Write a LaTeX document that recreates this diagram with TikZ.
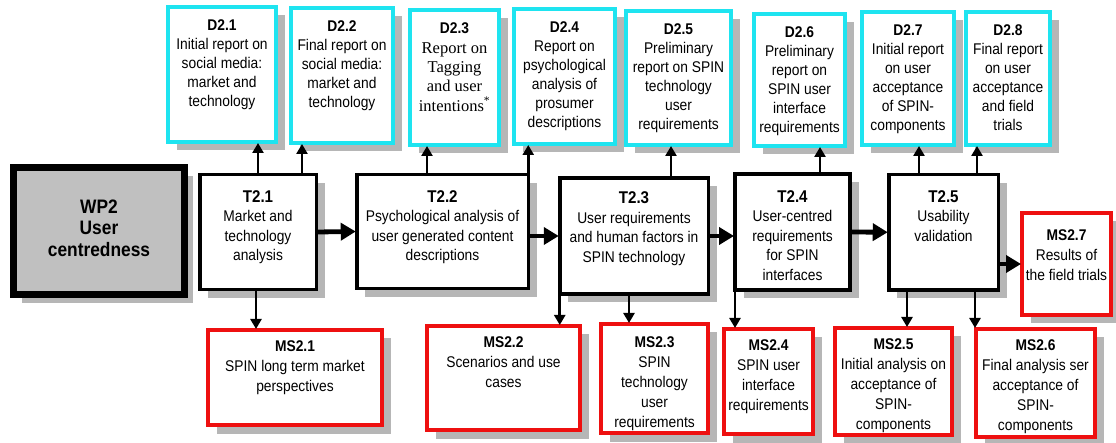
\documentclass[tikz,border=0pt]{standalone}
\usepackage{fontspec}
\setmainfont{Liberation Sans}[FakeStretch=0.89]
\newfontfamily\timesfont{Liberation Serif}
\usetikzlibrary{arrows.meta}

\definecolor{cyanline}{RGB}{30,228,240}
\definecolor{redline}{RGB}{238,16,16}
\definecolor{shadowgray}{RGB}{182,182,182}
\definecolor{wpfill}{RGB}{192,192,192}

% bold headings inside the boxes
\newcommand\boxtitle[1]{{\normalfont\bfseries\fontsize{15.5}{19}\selectfont #1}}
\newcommand\tasktitle[1]{{\normalfont\bfseries\fontsize{17}{19.5}\selectfont #1}}

% a box with its offset shadow: style, name, x, y, width, height
\newcommand\panel[6]{%
  \node[shadowpanel, minimum width=#5, minimum height=#6, xshift=8.5pt, yshift=-8.5pt] (#2-shadow) at (#3,#4) {};
  \node[#1, minimum width=#5, minimum height=#6] (#2) at (#3,#4) {};}

\begin{document}
\begin{tikzpicture}[x=1pt,y=-1pt,
  every node/.style={inner sep=0pt, outer sep=0pt},
  shadowpanel/.style={rectangle, fill=shadowgray, draw=none},
  boxbase/.style={rectangle, fill=white},
  dbox/.style={boxbase, draw=cyanline, line width=4pt},
  msbox/.style={boxbase, draw=redline, line width=4pt},
  tbox/.style={boxbase, draw=black, line width=3.5pt},
  wpbox/.style={boxbase, draw=black, fill=wpfill, line width=7pt},
  dtext/.style={anchor=north, align=center, font=\fontsize{15.5}{19}\selectfont},
  serifdtext/.style={anchor=north, align=center, font=\timesfont\fontsize{16.5}{19.3}\selectfont},
  ttext/.style={anchor=north, align=center, font=\fontsize{15.5}{19.5}\selectfont},
  mstext/.style={anchor=north, align=center, font=\fontsize{15.5}{20}\selectfont},
  wptext/.style={align=center, font=\bfseries\fontsize{19.5}{21.5}\selectfont},
  uparrow/.style={-{Triangle[length=10pt,width=11pt]}, line width=2.6pt, shorten >=1pt},
  downarrow/.style={-{Triangle[length=10pt,width=11pt]}, line width=2.6pt, shorten >=1pt},
  flowarrow/.style={-{Triangle[length=15pt,width=17pt]}, line width=4.8pt, shorten >=1pt},
]
\useasboundingbox (0,0) rectangle (1116,443);

% ---------- work package ----------
\panel{wpbox}{wp2}{99}{231}{171pt}{127pt}
\node[wptext] (wp2t) at ([yshift=3pt]wp2.center) {WP2\\User\\centredness};

% ---------- tasks ----------
\panel{tbox}{t21}{258}{232}{116.5pt}{115pt}
\panel{tbox}{t22}{442.5}{231.5}{171.5pt}{114pt}
\panel{tbox}{t23}{634}{236}{148.5pt}{116pt}
\panel{tbox}{t24}{792.5}{232}{115pt}{116pt}
\panel{tbox}{t25}{943.5}{232.25}{109.5pt}{115.5pt}

\node[ttext] (t21t) at ([yshift=-16pt]t21.north) {\tasktitle{T2.1}\\Market and\\technology\\analysis};
\node[ttext] (t22t) at ([yshift=-16pt]t22.north) {\tasktitle{T2.2}\\Psychological analysis of\\user generated content\\descriptions};
\node[ttext] (t23t) at ([yshift=-14pt]t23.north) {\tasktitle{T2.3}\\User requirements\\and human factors in\\SPIN technology};
\node[ttext] (t24t) at ([yshift=-16.5pt]t24.north) {\tasktitle{T2.4}\\User-centred\\requirements\\for SPIN\\interfaces};
\node[ttext] (t25t) at ([yshift=-16pt]t25.north) {\tasktitle{T2.5}\\Usability\\validation};

% ---------- deliverables ----------
\panel{dbox}{d21}{222}{74.5}{108pt}{135pt}
\panel{dbox}{d22}{342}{75.5}{102pt}{135pt}
\panel{dbox}{d23}{454.5}{77.5}{89pt}{135pt}
\panel{dbox}{d24}{564.5}{76.5}{101pt}{135pt}
\panel{dbox}{d25}{678.5}{78}{105pt}{134pt}
\panel{dbox}{d26}{799.5}{80}{91pt}{132pt}
\panel{dbox}{d27}{908}{78.5}{92pt}{133pt}
\panel{dbox}{d28}{1008}{78.5}{84pt}{133pt}

\node[dtext] (d21t) at ([yshift=-13pt]d21.north) {\boxtitle{D2.1}\\Initial report on\\social media:\\market and\\technology};
\node[dtext] (d22t) at ([yshift=-13pt]d22.north) {\boxtitle{D2.2}\\Final report on\\social media:\\market and\\technology};
\node[serifdtext] (d23t) at ([yshift=-13pt]d23.north) {\boxtitle{D2.3}\\Report on\\Tagging\\and user\\intentions\textsuperscript{*}};
\node[dtext] (d24t) at ([yshift=-13pt]d24.north) {\boxtitle{D2.4}\\Report on\\psychological\\analysis of\\prosumer\\descriptions};
\node[dtext] (d25t) at ([yshift=-13pt]d25.north) {\boxtitle{D2.5}\\Preliminary\\report on SPIN\\technology\\user\\requirements};
\node[dtext] (d26t) at ([yshift=-13pt]d26.north) {\boxtitle{D2.6}\\Preliminary\\report on\\SPIN user\\interface\\requirements};
\node[dtext] (d27t) at ([yshift=-13pt]d27.north) {\boxtitle{D2.7}\\Initial report\\on user\\acceptance\\of SPIN-\\components};
\node[dtext] (d28t) at ([yshift=-13pt]d28.north) {\boxtitle{D2.8}\\Final report\\on user\\acceptance\\and field\\trials};

% ---------- milestones ----------
\panel{msbox}{ms21}{295}{377.5}{174pt}{95pt}
\panel{msbox}{ms22}{503.5}{378}{153pt}{104pt}
\panel{msbox}{ms23}{654.5}{378.5}{107pt}{109pt}
\panel{msbox}{ms24}{768.5}{381.5}{89pt}{105pt}
\panel{msbox}{ms25}{893.5}{381.5}{117pt}{107pt}
\panel{msbox}{ms26}{1035.5}{383}{119pt}{108pt}
\panel{msbox}{ms27}{1066.5}{264}{89pt}{102pt}

\node[mstext] (ms21t) at ([yshift=-10.5pt]ms21.north) {\boxtitle{MS2.1}\\SPIN long term market\\perspectives};
\node[mstext] (ms22t) at ([yshift=-11pt]ms22.north) {\boxtitle{MS2.2}\\Scenarios and use\\cases};
\node[mstext] (ms23t) at ([yshift=-13pt]ms23.north) {\boxtitle{MS2.3}\\SPIN\\technology\\user\\requirements};
\node[mstext] (ms24t) at ([yshift=-10.5pt]ms24.north) {\boxtitle{MS2.4}\\SPIN user\\interface\\requirements};
\node[mstext] (ms25t) at ([yshift=-10.5pt]ms25.north) {\boxtitle{MS2.5}\\Initial analysis on\\acceptance of\\SPIN-\\components};
\node[mstext] (ms26t) at ([yshift=-11pt]ms26.north) {\boxtitle{MS2.6}\\Final analysis ser\\acceptance of\\SPIN-\\components};
\node[mstext] (ms27t) at ([yshift=-17pt]ms27.north) {\boxtitle{MS2.7}\\Results of\\the field trials};

% ---------- connector columns ----------
\coordinate (ua) at (258,0);
\coordinate (ub) at (302,0);
\coordinate (uc) at (427,0);
\coordinate (ue) at (671,0);
\coordinate (uf) at (820,0);
\coordinate (ug) at (919,0);
\coordinate (uh) at (977,0);
\coordinate (da) at (256,0);
\coordinate (dc) at (629,0);
\coordinate (de) at (907,0);
\coordinate (df) at (975,0);

% tasks to deliverables
\draw[uparrow] (t21.north -| ua) -- (d21.south -| ua);
\draw[uparrow] (t21.north -| ub) -- (d22.south -| ub);
\draw[uparrow] (t22.north -| uc) -- (d23.south -| uc);
\draw[uparrow] (t22.north east) -- (t22.north east |- d24.south);
\draw[uparrow] (t23.north -| ue) -- (d25.south -| ue);
\draw[uparrow] (t24.north -| uf) -- (d26.south -| uf);
\draw[uparrow] (t25.north -| ug) -- (d27.south -| ug);
\draw[uparrow] (t25.north -| uh) -- (d28.south -| uh);

% tasks to milestones
\draw[downarrow] (t21.south -| da) -- (ms21.north -| da);
\draw[downarrow] (t23.south west) -- (t23.south west |- ms22.north);
\draw[downarrow] (t23.south -| dc) -- (ms23.north -| dc);
\draw[downarrow] (t24.south west) -- (t24.south west |- ms24.north);
\draw[downarrow] (t25.south -| de) -- (ms25.north -| de);
\draw[downarrow] (t25.south -| df) -- (ms26.north -| df);

% task sequence
\draw[flowarrow] (t21.east) -- (t22.west);
\draw[flowarrow] (t23.west -| t22.east) -- (t23.west);
\draw[flowarrow] (t23.east) -- (t23.east -| t24.west);
\draw[flowarrow] (t24.east) -- (t25.west);
\draw[flowarrow] (t25.east |- ms27.west) -- (ms27.west);
\end{tikzpicture}
\end{document}
